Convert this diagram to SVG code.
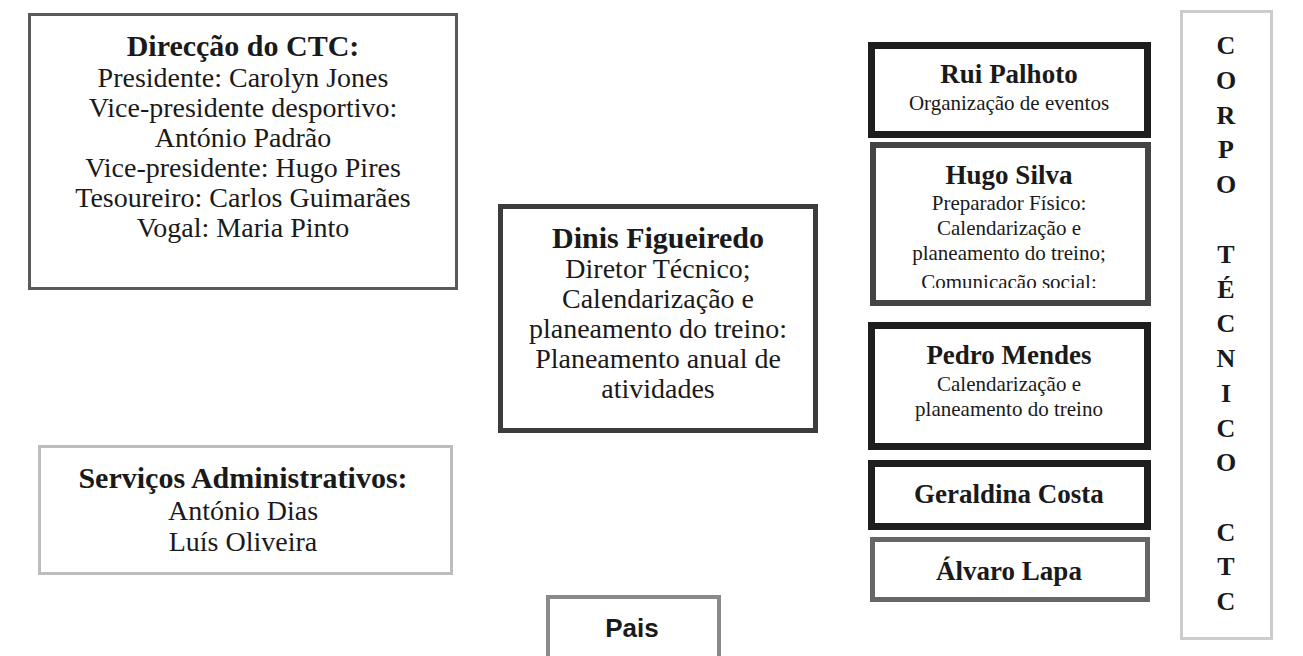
<svg xmlns="http://www.w3.org/2000/svg" width="1303" height="656" viewBox="0 0 1303 656">
<defs>
<style>
.bg{fill:#ffffff}
.box{fill:#ffffff}
.t{font-family:"Liberation Serif","Times New Roman",serif;fill:#1a1a1a;text-anchor:middle}
.b30{font-size:30px;font-weight:bold}
.r28{font-size:28px}
.b27{font-size:27px;font-weight:bold}
.r22{font-size:21px}
.v{font-size:26px;font-weight:bold}
.pais{font-family:"Liberation Sans",Arial,sans-serif;font-size:26px;font-weight:bold;fill:#1a1a1a;text-anchor:middle}
</style>
<clipPath id="hugoclip"><rect x="870" y="142" width="283" height="146"/></clipPath>
</defs>
<rect class="bg" x="0" y="0" width="1303" height="656"/>

<g id="direccao">
<rect class="box" x="29.5" y="14.5" width="427" height="274" stroke="#5a5a5a" stroke-width="3"/>
<text class="t b30" x="243" y="56">Direcção do CTC:</text>
<text class="t r28" x="243" y="87">Presidente: Carolyn Jones</text>
<text class="t r28" x="243" y="117">Vice-presidente desportivo:</text>
<text class="t r28" x="243" y="147">António Padrão</text>
<text class="t r28" x="243" y="177">Vice-presidente: Hugo Pires</text>
<text class="t r28" x="243" y="207">Tesoureiro: Carlos Guimarães</text>
<text class="t r28" x="243" y="237">Vogal: Maria Pinto</text>
</g>

<g id="dinis">
<rect class="box" x="500.5" y="206.5" width="315" height="224" stroke="#3c3c3c" stroke-width="5"/>
<text class="t b30" x="658" y="248">Dinis Figueiredo</text>
<text class="t r28" x="658" y="278">Diretor Técnico;</text>
<text class="t r28" x="658" y="308">Calendarização e</text>
<text class="t r28" x="658" y="338">planeamento do treino:</text>
<text class="t r28" x="658" y="368">Planeamento anual de</text>
<text class="t r28" x="658" y="398">atividades</text>
</g>

<g id="servicos">
<rect class="box" x="39.5" y="446.5" width="412" height="127" stroke="#bdbdbd" stroke-width="3"/>
<text class="t b30" x="243" y="488">Serviços Administrativos:</text>
<text class="t r28" x="243" y="520">António Dias</text>
<text class="t r28" x="243" y="551">Luís Oliveira</text>
</g>

<g id="pais">
<rect class="box" x="548" y="597" width="171" height="70" stroke="#8a8a8a" stroke-width="4"/>
<text class="pais" x="632" y="637">Pais</text>
</g>

<g id="rui">
<rect class="box" x="871.5" y="45.5" width="276" height="89" stroke="#1e1e1e" stroke-width="7"/>
<text class="t b27" x="1009" y="83">Rui Palhoto</text>
<text class="t r22" x="1009" y="110">Organização de eventos</text>
</g>

<g id="hugo">
<rect class="box" x="873" y="145" width="275" height="158" stroke="#444444" stroke-width="6"/>
<g clip-path="url(#hugoclip)">
<text class="t b27" x="1009" y="184">Hugo Silva</text>
<text class="t r22" x="1009" y="210">Preparador Físico:</text>
<text class="t r22" x="1009" y="235">Calendarização e</text>
<text class="t r22" x="1009" y="260">planeamento do treino;</text>
<text class="t r22" x="1009" y="289">Comunicação social:</text>
</g>
</g>

<g id="pedro">
<rect class="box" x="871.5" y="325.5" width="276" height="121" stroke="#1e1e1e" stroke-width="7"/>
<text class="t b27" x="1009" y="364">Pedro Mendes</text>
<text class="t r22" x="1009" y="391">Calendarização e</text>
<text class="t r22" x="1009" y="416">planeamento do treino</text>
</g>

<g id="geraldina">
<rect class="box" x="871.5" y="463.5" width="276" height="63" stroke="#1e1e1e" stroke-width="7"/>
<text class="t b27" x="1009" y="503">Geraldina Costa</text>
</g>

<g id="alvaro">
<rect class="box" x="872.5" y="539.5" width="275" height="60" stroke="#666666" stroke-width="5"/>
<text class="t b27" x="1009" y="580">Álvaro Lapa</text>
</g>

<g id="corpo">
<rect class="box" x="1181.5" y="11.5" width="90" height="627" stroke="#cccccc" stroke-width="3"/>
<text class="t v" x="1226" y="54">C</text>
<text class="t v" x="1226" y="89">O</text>
<text class="t v" x="1226" y="124">R</text>
<text class="t v" x="1226" y="158">P</text>
<text class="t v" x="1226" y="193">O</text>
<text class="t v" x="1226" y="263">T</text>
<text class="t v" x="1226" y="298">É</text>
<text class="t v" x="1226" y="332">C</text>
<text class="t v" x="1226" y="367">N</text>
<text class="t v" x="1226" y="402">I</text>
<text class="t v" x="1226" y="437">C</text>
<text class="t v" x="1226" y="471">O</text>
<text class="t v" x="1226" y="541">C</text>
<text class="t v" x="1226" y="575">T</text>
<text class="t v" x="1226" y="610">C</text>
</g>

<g id="connectors"></g>
</svg>
